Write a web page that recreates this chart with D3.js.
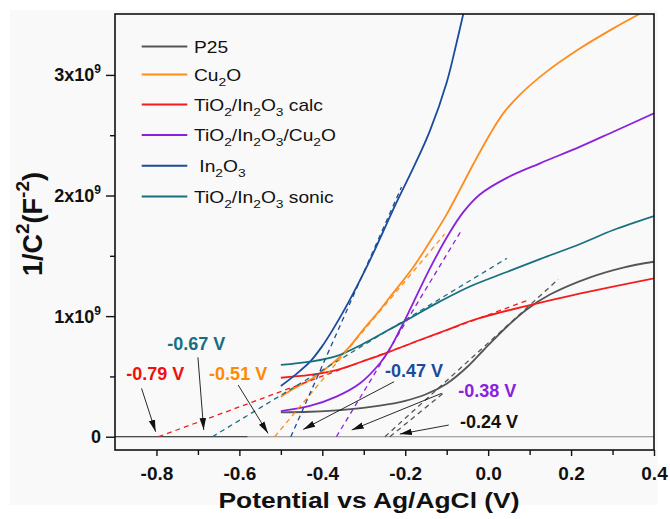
<!DOCTYPE html>
<html><head><meta charset="utf-8">
<script src="https://cdn.jsdelivr.net/npm/d3@7/dist/d3.min.js"></script>
<style>body{margin:0;background:#fff}svg{display:block}</style>
</head><body><svg id="chart" width="670" height="519"></svg>
<script>
// ---- data (x: Potential vs Ag/AgCl in V, y: 1/C^2 in units of 1e9 F^-2) ----
const seriesNames  = ["P25", "Cu_2O", "TiO_2/In_2O_3 calc", "TiO_2/In_2O_3/Cu_2O", " In_2O_3", "TiO_2/In_2O_3 sonic"];
const seriesColors = ["#555555", "#ff8c1a", "#f41c1c", "#8a22dd", "#1b4c9c", "#17707f"];

const p25 = [[-0.5,0.202],[-0.43,0.207],[-0.35,0.222],[-0.261,0.258],[-0.2,0.298],[-0.15,0.352],[-0.1,0.44],[-0.05,0.58],[-0.012,0.715],[0.045,0.912],[0.093,1.055],[0.149,1.179],[0.246,1.322],[0.326,1.403],[0.4,1.451]];
const cu2o = [[-0.5,0.332],[-0.466,0.404],[-0.43,0.47],[-0.399,0.545],[-0.366,0.637],[-0.333,0.752],[-0.302,0.885],[-0.261,1.051],[-0.237,1.158],[-0.182,1.399],[-0.141,1.615],[-0.1,1.844],[-0.068,2.049],[-0.036,2.259],[0.004,2.506],[0.036,2.679],[0.077,2.837],[0.141,3.027],[0.222,3.221],[0.302,3.386],[0.365,3.505]];
const calc = [[-0.5,0.489],[-0.43,0.512],[-0.366,0.553],[-0.302,0.626],[-0.245,0.695],[-0.165,0.802],[-0.1,0.885],[-0.036,0.968],[0.101,1.092],[0.205,1.175],[0.4,1.313]];
const ternary = [[-0.5,0.213],[-0.43,0.255],[-0.366,0.332],[-0.309,0.443],[-0.261,0.609],[-0.237,0.729],[-0.213,0.885],[-0.189,1.051],[-0.141,1.392],[-0.092,1.697],[-0.06,1.862],[-0.02,2.008],[0.045,2.146],[0.125,2.267],[0.222,2.405],[0.302,2.529],[0.4,2.682]];
const in2o3 = [[-0.5,0.42],[-0.466,0.511],[-0.43,0.62],[-0.401,0.747],[-0.375,0.886],[-0.338,1.108],[-0.285,1.465],[-0.221,1.943],[-0.182,2.218],[-0.141,2.532],[-0.1,2.938],[-0.076,3.269],[-0.058,3.535]];
const sonic = [[-0.5,0.595],[-0.43,0.622],[-0.366,0.668],[-0.302,0.769],[-0.245,0.876],[-0.197,0.966],[-0.116,1.122],[-0.044,1.246],[0.045,1.366],[0.125,1.473],[0.222,1.598],[0.302,1.714],[0.4,1.83]];
const seriesData = [p25, cu2o, calc, ternary, in2o3, sonic];

// tangent (Mott-Schottky extrapolation) lines: [x1,y1,x2,y2], colour index
const tangentLines = [
  {s:2, p:[-0.795,0,0.093,1.128]},
  {s:5, p:[-0.665,0,0.045,1.479]},
  {s:1, p:[-0.515,0,-0.105,1.68]},
  {s:4, p:[-0.476,0,-0.209,2.07]},
  {s:3, p:[-0.366,0,-0.064,1.714]},
  {s:0, p:[-0.249,0,0.169,1.305]},
  {s:0, p:[-0.237,0,-0.104,0.373]}
];
const baseline = [{c:"#111", p:[-0.9,-0.58]}, {c:"#888", p:[-0.58,0.4]}];

// annotations: label text, colour, label centre x / baseline y, arrow from -> to
const annLabels = ["-0.79 V","-0.67 V","-0.51 V","-0.47 V","-0.38 V","-0.24 V"];
const annColors = ["#f01010","#156f80","#ff8a00","#1b4c9c","#8a22dd","#111111"];
const annPos    = [[-0.803,0.47],[-0.704,0.719],[-0.603,0.47],[-0.179,0.498],[-0.002,0.332],[0.002,0.07]];
const annArrows = [[-0.836,0.401,-0.802,0.041],[-0.700,0.658,-0.686,0.056],[-0.603,0.429,-0.531,0.028],
                   [-0.227,0.456,-0.446,0.061],[-0.112,0.36,-0.329,0.056],[-0.095,0.097,-0.213,0.022]];

const xMajor = [-0.8,-0.6,-0.4,-0.2,0.0,0.2,0.4];
const xMajorLabels = ["-0.8","-0.6","-0.4","-0.2","0.0","0.2","0.4"];
const xMinor = [-0.7,-0.5,-0.3,-0.1,0.1,0.3];
const yMajor = [0,1,2,3];
const yMinor = [0.5,1.5,2.5];
const yTickLabels = ["0","1x10^9","2x10^9","3x10^9"];
const xTitle = "Potential vs Ag/AgCl (V)";
const yTitle = "1/C^2(F^{-2})";

// ---- layout ----
const FONT = "'Liberation Sans', Arial, Helvetica, sans-serif";
const svg = d3.select("#chart");
const L = 115, T = 14, R = 654, B = 450;
const x = d3.scaleLinear().domain([-0.9, 0.4]).range([L, R]);
const y = d3.scaleLinear().domain([-0.11, 3.505]).range([B, T]);

svg.append("rect").attr("x",10).attr("y",10).attr("width",648).attr("height",495).attr("fill","#f9f9f9");

// rich text helper: _x subscript, ^x / ^{..} superscript
function rich(sel, str, small, sub, sup) {
  const parts = str.split(/([_^]\{[^}]*\}|[_^][^{])/).filter(s => s !== "");
  let shift = 0;
  parts.forEach(p => {
    if (p[0] === "_" || p[0] === "^") {
      const t = p[1] === "{" ? p.slice(2, -1) : p.slice(1);
      const d = p[0] === "_" ? sub : -sup;
      sel.append("tspan").attr("dy", d - shift).style("font-size", small + "px").text(t);
      shift = d;
    } else {
      sel.append("tspan").attr("dy", -shift).text(p);
      shift = 0;
    }
  });
}

const defs = svg.append("defs");
defs.append("clipPath").attr("id","plotClip")
  .append("rect").attr("x",L).attr("y",T).attr("width",R-L).attr("height",B-T);
const marker = defs.append("marker").attr("id","arrow")
  .attr("viewBox","0 -4 12 8").attr("refX",12).attr("refY",0)
  .attr("markerUnits","userSpaceOnUse").attr("markerWidth",12).attr("markerHeight",8).attr("orient","auto");
marker.append("path").attr("d","M0,-3.2L12,0L0,3.2Z").attr("fill","#111");

const plot = svg.append("g").attr("clip-path","url(#plotClip)");

// baseline at zero
plot.selectAll(".base").data(baseline).join("line")
  .attr("x1", d => x(d.p[0])).attr("x2", d => x(d.p[1]))
  .attr("y1", y(0)).attr("y2", y(0)).attr("stroke", d => d.c).attr("stroke-width", 1.2);

// curves
const line = d3.line().x(d => x(d[0])).y(d => y(d[1])).curve(d3.curveCatmullRom.alpha(0.5));
plot.selectAll(".curve").data(seriesData).join("path")
  .attr("d", line).attr("fill","none")
  .attr("stroke", (d,i) => seriesColors[i]).attr("stroke-width", 1.8);

// tangent dashed lines
plot.selectAll(".tan").data(tangentLines).join("line")
  .attr("x1", d => x(d.p[0])).attr("y1", d => y(d.p[1]))
  .attr("x2", d => x(d.p[2])).attr("y2", d => y(d.p[3]))
  .attr("stroke", d => seriesColors[d.s]).attr("stroke-width", 1.3)
  .attr("stroke-dasharray","5,4");

// arrows
svg.selectAll(".arr").data(annArrows).join("line")
  .attr("x1", d => x(d[0])).attr("y1", d => y(d[1]))
  .attr("x2", d => x(d[2])).attr("y2", d => y(d[3]))
  .attr("stroke","#111").attr("stroke-width",0.9).attr("marker-end","url(#arrow)");

// annotation labels
svg.selectAll(".ann").data(annLabels).join("text")
  .attr("x", (d,i) => x(annPos[i][0])).attr("y", (d,i) => y(annPos[i][1]))
  .attr("text-anchor","middle").attr("font-family",FONT).attr("font-weight","bold")
  .attr("font-size",18).attr("fill",(d,i) => annColors[i]).text(d => d);

// frame
svg.append("rect").attr("x",L).attr("y",T).attr("width",R-L).attr("height",B-T)
  .attr("fill","none").attr("stroke","#111").attr("stroke-width",1.6);

// x axis ticks
const xAxisMaj = svg.append("g").attr("transform",`translate(0,${B})`)
  .call(d3.axisBottom(x).tickValues(xMajor).tickSize(6).tickFormat((d,i) => xMajorLabels[i]));
const xAxisMin = svg.append("g").attr("transform",`translate(0,${B})`)
  .call(d3.axisBottom(x).tickValues(xMinor).tickSize(5).tickFormat(() => ""));
[xAxisMaj, xAxisMin].forEach(g => {
  g.selectAll(".domain").remove();
  g.selectAll("line").attr("stroke","#111").attr("stroke-width",1.4);
});
xAxisMaj.selectAll("text").attr("font-family",FONT).attr("font-weight","bold").attr("font-size",19)
  .attr("fill","#111").attr("dy",null).attr("y",30);

// y axis ticks
const yAxisMaj = svg.append("g").attr("transform",`translate(${L},0)`)
  .call(d3.axisLeft(y).tickValues(yMajor).tickSize(9).tickFormat(() => ""));
const yAxisMin = svg.append("g").attr("transform",`translate(${L},0)`)
  .call(d3.axisLeft(y).tickValues(yMinor).tickSize(5).tickFormat(() => ""));
[yAxisMaj, yAxisMin].forEach(g => {
  g.selectAll(".domain").remove();
  g.selectAll("line").attr("stroke","#111").attr("stroke-width",1.4);
});
yMajor.forEach((v,i) => {
  const t = svg.append("text").attr("x",101).attr("y",y(v)+6.5).attr("text-anchor","end")
    .attr("font-family",FONT).attr("font-weight","bold").attr("font-size",18).attr("fill","#111");
  rich(t, yTickLabels[i], 12, 5, 8);
});

// axis titles
svg.append("text").attr("transform","translate(369,508) scale(1.2,1)")
  .attr("text-anchor","middle").attr("font-family",FONT).attr("font-weight","bold")
  .attr("font-size",22).attr("fill","#111").text(xTitle);
const yt = svg.append("text").attr("transform","translate(42,224) rotate(-90)")
  .attr("text-anchor","middle").attr("font-family",FONT).attr("font-weight","bold")
  .attr("font-size",27).attr("fill","#111");
rich(yt, yTitle, 19, 6, 13);

// legend
const legRows = [46.5, 74.5, 104.5, 135, 165.7, 196.5];
const leg = svg.append("g");
seriesNames.forEach((n,i) => {
  leg.append("line").attr("x1",141.7).attr("x2",187.3).attr("y1",legRows[i]).attr("y2",legRows[i])
    .attr("stroke",seriesColors[i]).attr("stroke-width",2);
  const t = leg.append("text").attr("transform",`translate(194,${legRows[i]+6}) scale(1.2,1)`)
    .attr("font-family",FONT).attr("font-size",16).attr("fill","#111").style("white-space","pre");
  rich(t, n, 11.5, 5, 7);
});
</script></body></html>
